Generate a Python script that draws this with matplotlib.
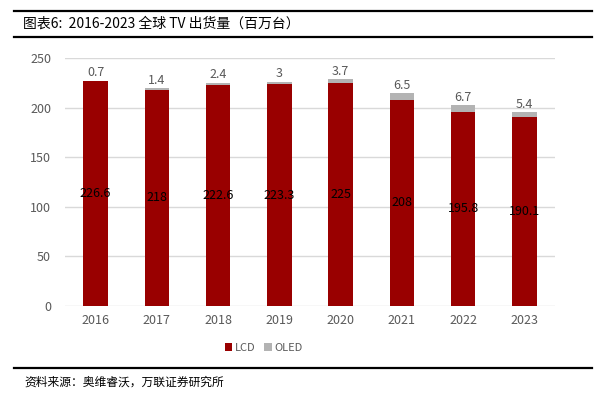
import matplotlib
matplotlib.use('Agg')
import matplotlib.pyplot as plt
import numpy as np

plt.rcParams['font.family'] = ['Noto Sans CJK SC', 'DejaVu Sans']

years = ['2016', '2017', '2018', '2019', '2020', '2021', '2022', '2023']
lcd = [226.6, 218, 222.6, 223.3, 225, 208, 195.8, 190.1]
oled = [0.7, 1.4, 2.4, 3, 3.7, 6.5, 6.7, 5.4]
yticks = [0, 50, 100, 150, 200, 250]

lcd_color = '#990000'
oled_color = '#b3b3b3'

fig = plt.figure(figsize=(6.07, 3.93), dpi=100)
ax = fig.add_axes([65 / 607, 1 - 306 / 393, 490 / 607, 248 / 393])

x = np.arange(len(years))
ax.bar(x, lcd, width=0.4, color=lcd_color, label='LCD', zorder=3)
ax.bar(x, oled, width=0.4, bottom=lcd, color=oled_color, label='OLED', zorder=3)

for i in range(len(years)):
    ax.text(x[i], lcd[i] / 2, f'{lcd[i]:g}', ha='center', va='center',
            fontsize=9, color='black', zorder=4)
    ax.text(x[i], lcd[i] + oled[i] + 1.5, f'{oled[i]:g}', ha='center', va='bottom',
            fontsize=9, color='#595959', zorder=4)

ax.set_xlim(-0.5, len(years) - 0.5)
ax.set_ylim(0, 250)
ax.set_yticks(yticks)
ax.set_xticks(x)
ax.set_xticklabels(years)
ax.tick_params(axis='both', length=0, labelsize=9, labelcolor='#595959')
ax.tick_params(axis='x', pad=6)
ax.tick_params(axis='y', pad=10)
ax.grid(axis='y', color='#d9d9d9', linewidth=1, zorder=0)
for s in ax.spines.values():
    s.set_visible(False)

ax.legend(loc='center', bbox_to_anchor=(0.405, -0.17), ncol=2, frameon=False,
          fontsize=8, handlelength=0.7, handleheight=0.7, handletextpad=0.2,
          columnspacing=0.8, labelcolor='#595959')

# header and footer rules
for yy in (11, 37, 368):
    fig.add_artist(plt.Line2D([14 / 607, 592 / 607], [1 - yy / 393, 1 - yy / 393],
                              color='black', linewidth=1.6))

fig.text(23 / 607, 1 - 24 / 393, '图表6:  2016-2023 全球 TV 出货量（百万台）',
         fontsize=10, va='center', ha='left')
fig.text(24 / 607, 1 - 382 / 393, '资料来源：奥维睿沃，万联证券研究所',
         fontsize=8.5, va='center', ha='left', style='italic')

plt.savefig('out.png', dpi=100)
plt.close(fig)
